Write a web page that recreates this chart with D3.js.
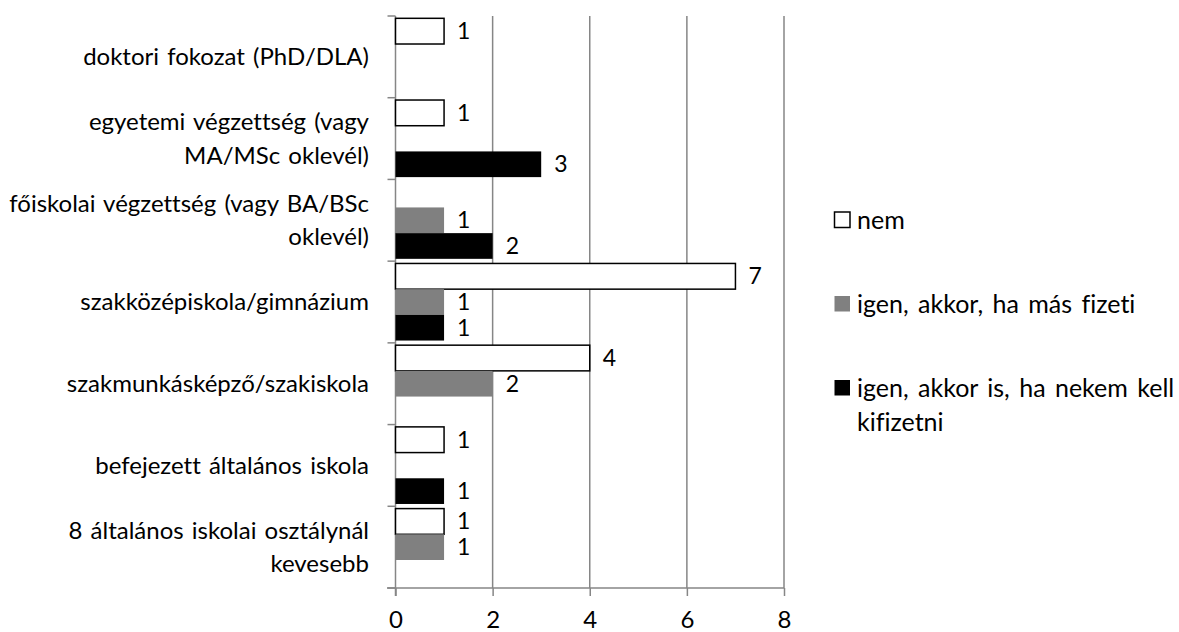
<!DOCTYPE html>
<html><head><meta charset="utf-8">
<script src="https://cdn.jsdelivr.net/npm/d3@7"></script>
<style>body{margin:0;background:#fff}svg{display:block}text{font-family:Lato,"Noto Sans",sans-serif;fill:#000;font-variant-ligatures:none;font-feature-settings:"liga" 0,"clig" 0}</style>
</head><body><svg id="c" width="1179" height="632"></svg>
<script>
const categories = [
  "doktori fokozat (PhD/DLA)",
  "egyetemi végzettség (vagy\nMA/MSc oklevél)",
  "főiskolai végzettség (vagy BA/BSc\noklevél)",
  "szakközépiskola/gimnázium",
  "szakmunkásképző/szakiskola",
  "befejezett általános iskola",
  "8 általános iskolai osztálynál\nkevesebb"
];
const seriesNames = ["nem", "igen, akkor, ha más fizeti", "igen, akkor is, ha nekem kell\nkifizetni"];
const nem      = [1, 1, null, 7, 4, 1, 1];
const masFizet = [null, null, 1, 1, 2, null, 1];
const enFizet  = [null, 3, 2, 1, null, 1, null];
const xTicks = [0, 2, 4, 6, 8];
const colors = ["#ffffff", "#808080", "#000000"];

const seriesValues = [nem, masFizet, enFizet];
const svg = d3.select("#c");
const fs = 24;
const x = d3.scaleLinear().domain([0, 8]).range([395.5, 784]);
const y = d3.scaleBand().domain(categories).range([16, 588]).paddingInner(0).paddingOuter(0);
const ys = d3.scaleBand().domain(seriesNames).range([0, y.bandwidth()]).paddingInner(0).paddingOuter(0.09);

// gridlines
svg.append("g").selectAll("line").data(xTicks.filter(d => d > 0)).join("line")
  .attr("x1", d => x(d)).attr("x2", d => x(d)).attr("y1", 16).attr("y2", 588)
  .attr("stroke", "#868686").attr("stroke-width", 1.5);

// x axis
const xa = svg.append("g").attr("transform", "translate(0,588)")
  .call(d3.axisBottom(x).tickValues(xTicks).tickSize(8).tickPadding(15));
xa.select(".domain").attr("d", "M387,0H784");
xa.selectAll(".domain,.tick line").attr("stroke", "#868686").attr("stroke-width", 1.5);
xa.selectAll("text").style("font-size", fs + "px").style("font-family", "Lato").attr("fill", "#000");

// y axis
const ya = svg.append("g").attr("transform", "translate(395.5,0)")
  .call(d3.axisLeft(y).tickValues([]).tickSizeOuter(0));
ya.select(".domain").attr("d", "M0,16V596");
ya.selectAll(".domain").attr("stroke", "#868686").attr("stroke-width", 1.5);
const bounds = categories.map(c => y(c)).concat([588]);
ya.selectAll(".bt").data(bounds).join("line").attr("class", "bt")
  .attr("x1", -8).attr("x2", 0).attr("y1", d => d).attr("y2", d => d)
  .attr("stroke", "#868686").attr("stroke-width", 1.5);

// category labels
const lh = 33.5;
categories.forEach(c => {
  const lines = c.split("\n");
  const cy = y(c) + y.bandwidth() / 2;
  const t = svg.append("text").attr("text-anchor", "end").style("font-size", fs + "px").style("word-spacing", "2px");
  lines.forEach((l, i) => {
    t.append("tspan").attr("x", 369).attr("y", cy + (i - (lines.length - 1) / 2) * lh).attr("dy", "0.35em").text(l);
  });
});

// bars
seriesNames.forEach((s, si) => {
  const data = categories.map((c, i) => ({c, v: seriesValues[si][i]})).filter(d => d.v != null);
  const g = svg.append("g");
  g.selectAll("rect").data(data).join("rect")
    .attr("x", x(0)).attr("y", d => y(d.c) + ys(s))
    .attr("width", d => x(d.v) - x(0)).attr("height", ys.bandwidth())
    .attr("fill", colors[si])
    .attr("stroke", si === 0 ? "#000" : "none").attr("stroke-width", 1.5);
  g.selectAll("text").data(data).join("text")
    .attr("x", d => x(d.v) + 13).attr("y", d => y(d.c) + ys(s) + ys.bandwidth() / 2)
    .attr("dy", "0.35em").style("font-size", "23px").text(d => d.v);
});

// legend
const legY = [220, 304, 388];
seriesNames.forEach((s, si) => {
  const g = svg.append("g");
  g.append("rect").attr("x", 834.5).attr("y", legY[si] - 8).attr("width", 15.5).attr("height", 15.5)
    .attr("fill", colors[si]).attr("stroke", si === 0 ? "#000" : "none").attr("stroke-width", 1.5);
  const t = g.append("text").style("font-size", "25px").style("word-spacing", "3px");
  s.split("\n").forEach((l, i) => {
    t.append("tspan").attr("x", 857).attr("y", legY[si] + i * 34).attr("dy", "0.35em").text(l);
  });
});
</script></body></html>
